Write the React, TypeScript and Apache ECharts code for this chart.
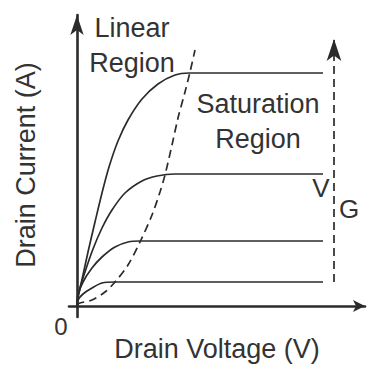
import React, { useEffect, useRef } from "react";
import * as echarts from "echarts";

// Schematic MOSFET output characteristics (arbitrary units)
const curveTop: [number, number][] = [[0, 0], [1, 8], [6, 31], [11, 54], [18, 84], [25, 113], [32, 139], [41, 165], [51, 186], [65, 207], [81, 222], [98, 231], [112, 233], [246, 233]];
const curveSecond: [number, number][] = [[0, 0], [1, 11], [8, 34], [16, 57], [25, 78], [35, 96], [48, 113], [65, 125], [80, 130], [98, 132], [246, 132]];
const curveThird: [number, number][] = [[0, 0], [1, 11], [6, 24], [15, 38], [25, 49], [38, 59], [51, 64], [63, 65], [246, 65]];
const curveFourth: [number, number][] = [[0, 0], [1, 6], [6, 12], [15, 18], [25, 23], [38, 24], [246, 24]];
const pinchOff: [number, number][] = [[0, 1], [3, 3], [15, 6], [28, 14], [38, 24], [51, 41], [63, 64], [75, 91], [83, 114], [88, 131], [95, 161], [101, 188], [108, 214], [113, 234], [118, 256]];
const gateArrow: [number, number][] = [[257, 24], [257, 267]];

const axisLabels = { x: "Drain Voltage (V)", y: "Drain Current (A)", origin: "0" };
const regionLabels = { linear: "Linear\nRegion", saturation: "Saturation\nRegion" };
const gateLabel = { main: "V", sub: "G" };

const INK = "#2b2b2b";
const TEXT = "#333333";
const FONT = "Liberation Sans, Arial, sans-serif";

export default function App() {
  const ref = useRef<HTMLDivElement>(null);
  useEffect(() => {
    if (!ref.current) return;
    const chart = echarts.init(ref.current, null, { renderer: "svg" });
    const curveStyle = { color: INK, width: 1.7 };
    const mk = (data: [number, number][]) => ({
      type: "line",
      data,
      symbol: "none",
      smooth: 0.3,
      lineStyle: curveStyle,
      silent: true,
    });
    const txt = (text: string, x: number, y: number, size: number, extra: any = {}) => ({
      type: "text",
      x,
      y,
      ...extra,
      style: {
        text,
        fill: TEXT,
        font: `${size}px ${FONT}`,
        textAlign: "center",
        textVerticalAlign: "middle",
        lineHeight: 35,
      },
    });
    chart.setOption({
      animation: false,
      backgroundColor: "#ffffff",
      grid: { left: 69, right: 6, top: 15, bottom: 54 },
      xAxis: {
        type: "value",
        min: -8,
        max: 288,
        axisLine: {
          show: true,
          onZero: true,
          symbol: ["none", "arrow"],
          symbolSize: [9, 12],
          lineStyle: { color: INK, width: 2.6 },
        },
        axisTick: { show: false },
        axisLabel: { show: false },
        splitLine: { show: false },
      },
      yAxis: {
        type: "value",
        min: -11,
        max: 291,
        axisLine: {
          show: true,
          onZero: true,
          symbol: ["none", "arrow"],
          symbolSize: [10, 20],
          lineStyle: { color: INK, width: 2.6 },
        },
        axisTick: { show: false },
        axisLabel: { show: false },
        splitLine: { show: false },
      },
      series: [
        mk(curveTop),
        mk(curveSecond),
        mk(curveThird),
        mk(curveFourth),
        {
          type: "line",
          data: pinchOff,
          symbol: "none",
          smooth: 0.3,
          lineStyle: { color: INK, width: 1.7, type: [8, 5] },
          silent: true,
        },
        {
          type: "line",
          data: [],
          markLine: {
            silent: true,
            symbol: ["none", "arrow"],
            symbolSize: [11, 22],
            label: { show: false },
            lineStyle: { color: INK, width: 1.7, type: [8, 5] },
            data: [[{ coord: gateArrow[0] }, { coord: gateArrow[1] }]],
          },
        },
      ],
      graphic: [
        txt(regionLabels.linear, 132, 45, 27),
        txt(regionLabels.saturation, 258, 121, 27),
        txt(axisLabels.x, 217, 349, 27),
        txt(axisLabels.y, 26, 165, 27, { rotation: Math.PI / 2 }),
        txt(axisLabels.origin, 61, 326, 24),
        txt(gateLabel.main, 321, 188, 26),
        txt(gateLabel.sub, 349, 209, 26),
      ],
    });
    return () => chart.dispose();
  }, []);
  return <div ref={ref} style={{ position: "fixed", left: 0, top: 0, width: 371, height: 371 }} />;
}
